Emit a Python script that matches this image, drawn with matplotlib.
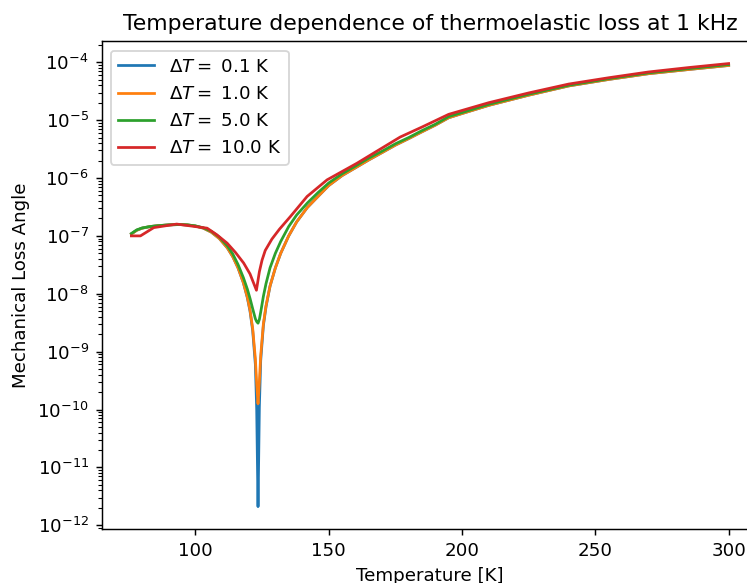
import matplotlib
matplotlib.use("Agg")
import matplotlib.pyplot as plt

# Temperature grid [K] shared by the three narrow-window curves
temperature = [76, 78, 80, 83, 86, 90, 94, 97, 100, 103, 106, 109, 112, 114, 116,
               118, 119.5, 120.5, 121.5, 122.5, 123.0, 123.5, 124.0, 124.5, 125.5,
               126.5, 128, 130, 132, 135, 138, 142, 146, 150, 155, 160, 165, 170,
               175, 180, 185, 190, 195, 200, 210, 225, 240, 255, 270, 285, 300]

loss_dt_0p1 = [1.08e-7, 1.25e-7, 1.36e-7, 1.45e-7, 1.50e-7, 1.55e-7, 1.57e-7, 1.55e-7,
               1.48e-7, 1.36e-7, 1.16e-7, 9.0e-8, 6.2e-8, 4.4e-8, 2.8e-8,
               1.55e-8, 8.5e-9, 5.0e-9, 2.3e-9, 6.0e-10, 1.0e-10, 2.1e-12, 1.1e-10, 7.0e-10, 2.8e-9,
               6.0e-9, 1.35e-8, 2.8e-8, 5.0e-8, 1.0e-7, 1.75e-7, 3.1e-7, 4.8e-7, 7.4e-7, 1.1e-6,
               1.5e-6, 2.05e-6, 2.75e-6, 3.7e-6, 4.8e-6, 6.3e-6, 8.2e-6, 1.1e-5, 1.3e-5, 1.8e-5,
               2.7e-5, 3.9e-5, 5.05e-5, 6.35e-5, 7.5e-5, 8.8e-5]

loss_dt_1 = [1.08e-7, 1.25e-7, 1.36e-7, 1.45e-7, 1.50e-7, 1.55e-7, 1.57e-7, 1.55e-7,
             1.48e-7, 1.36e-7, 1.16e-7, 9.0e-8, 6.2e-8, 4.4e-8, 2.8e-8,
             1.56e-8, 8.7e-9, 5.2e-9, 2.5e-9, 7.5e-10, 2.8e-10, 1.26e-10, 3.0e-10, 8.5e-10, 3.0e-9,
             6.2e-9, 1.36e-8, 2.8e-8, 5.0e-8, 1.0e-7, 1.75e-7, 3.1e-7, 4.8e-7, 7.4e-7, 1.1e-6,
             1.5e-6, 2.05e-6, 2.75e-6, 3.7e-6, 4.8e-6, 6.3e-6, 8.2e-6, 1.1e-5, 1.3e-5, 1.8e-5,
             2.7e-5, 3.9e-5, 5.05e-5, 6.35e-5, 7.5e-5, 8.8e-5]

loss_dt_5 = [1.10e-7, 1.27e-7, 1.37e-7, 1.45e-7, 1.50e-7, 1.55e-7, 1.57e-7, 1.55e-7,
             1.49e-7, 1.38e-7, 1.20e-7, 9.5e-8, 6.7e-8, 4.9e-8, 3.2e-8,
             1.9e-8, 1.2e-8, 8.3e-9, 5.5e-9, 3.7e-9, 3.3e-9, 3.1e-9, 3.6e-9, 4.8e-9, 9.0e-9,
             1.5e-8, 2.8e-8, 5.0e-8, 8.0e-8, 1.45e-7, 2.3e-7, 3.7e-7, 5.6e-7, 8.2e-7, 1.18e-6,
             1.6e-6, 2.2e-6, 2.9e-6, 3.9e-6, 5.0e-6, 6.6e-6, 8.5e-6, 1.15e-5, 1.35e-5, 1.87e-5,
             2.8e-5, 4.0e-5, 5.2e-5, 6.55e-5, 7.75e-5, 9.1e-5]

# The widest window is sampled on its own grid
temperature_dt_10 = [76, 79.4, 84.4, 93, 104.4, 108, 111.9, 115, 118.1, 120.5, 122.9,
                     124, 125, 126.2, 128.7, 131.5, 135.6, 141.9, 149.4, 160.6, 166.9,
                     176.8, 185, 195, 210, 225, 240, 255, 270, 285, 300]
loss_dt_10 = [1.0e-7, 1.0e-7, 1.39e-7, 1.6e-7, 1.36e-7, 1.05e-7, 7.5e-8, 5.2e-8, 3.4e-8,
              2.2e-8, 1.15e-8, 2.4e-8, 3.8e-8, 5.6e-8, 8.8e-8, 1.3e-7, 2.15e-7, 4.8e-7,
              9.3e-7, 1.8e-6, 2.7e-6, 5.1e-6, 7.6e-6, 1.26e-5, 2.0e-5, 2.95e-5, 4.2e-5,
              5.4e-5, 6.8e-5, 8.1e-5, 9.5e-5]

window_widths = [0.1, 1.0, 5.0, 10.0]

DPI = 131.5
fig = plt.figure(figsize=(747 / DPI, 583 / DPI), dpi=DPI)
ax = fig.add_axes([0.1359, 0.0930, 0.8795, 0.8360])

series = [(temperature, loss_dt_0p1), (temperature, loss_dt_1),
          (temperature, loss_dt_5), (temperature_dt_10, loss_dt_10)]
for (t, loss), dt in zip(series, window_widths):
    ax.plot(t, loss, label=rf"$\Delta T = $ {dt:.1f} K")

ax.set_yscale("log")
ax.set_xlabel("Temperature [K]")
ax.set_ylabel("Mechanical Loss Angle")
ax.set_title("Temperature dependence of thermoelastic loss at 1 kHz")
ax.legend(loc="upper left")

fig.savefig("out.png", dpi=DPI)
